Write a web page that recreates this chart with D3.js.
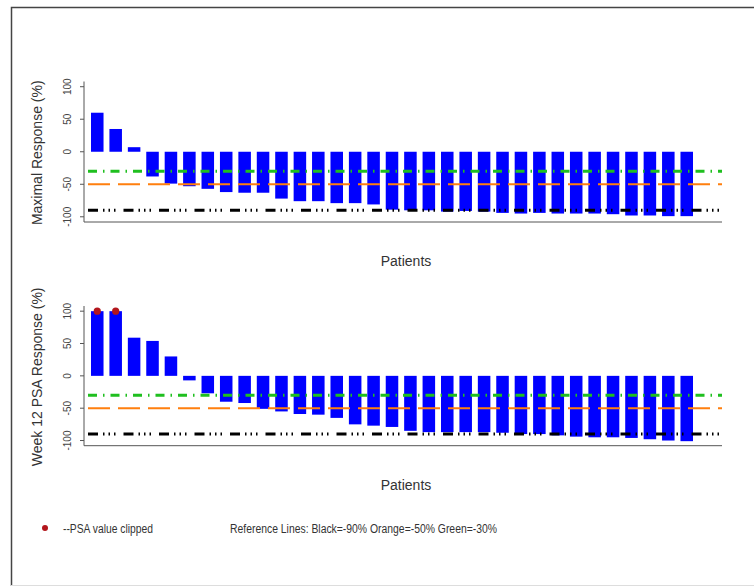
<!DOCTYPE html>
<html>
<head>
<meta charset="utf-8">
<script src="https://cdn.jsdelivr.net/npm/d3@7"></script>
<style>
  body { margin: 0; background: #fff; }
  svg { display: block; font-family: 'Liberation Sans', Arial, sans-serif; }
</style>
</head>
<body>
<div id="chart"></div>
<script>
// patients sorted by response, one bar each
const patients = ['1','2','3','4','5','6','7','8','9','10','11','12','13','14','15','16','17',
  '18','19','20','21','22','23','24','25','26','27','28','29','30','31','32','33'];

const maximalResponse = [60, 35, 7, -38, -49, -53, -57, -62, -63, -63, -72, -76, -76, -79, -79, -81, -89,
  -90, -90, -92, -91, -92, -94, -95, -94, -95, -95, -95, -96, -98, -98, -99, -99];

const week12Response = [100, 100, 59, 54, 30, -7, -27, -40, -42, -51, -55, -59, -60, -65, -75, -77, -79,
  -85, -87, -87, -87, -87, -88, -90, -90, -92, -94, -95, -95, -96, -98, -100, -101];

// indices of week 12 values clipped at 100
const clippedIdx = [0, 1];

const yTicks = [-100, -50, 0, 50, 100];
const refValues = [-90, -50, -30];
const refLabel = 'Reference Lines: Black=-90% Orange=-50% Green=-30%';
const clipLabel = '--PSA value clipped';

const W = 754, H = 587;
const svg = d3.select('#chart').append('svg').attr('width', W).attr('height', H);

// outer frame (top/left visible, faint bottom)
svg.append('path').attr('d', 'M11.5,586V7.5H754')
  .attr('fill', 'none').attr('stroke', '#444').attr('stroke-width', 1.5);
svg.append('line').attr('x1', 11).attr('x2', 754).attr('y1', 585.5).attr('y2', 585.5)
  .attr('stroke', '#ddd');

const refStyle = {
  '-90': { color: '#000', dash: '10,5,1.5,4,1.5,4,1.5,8', width: 3 },
  '-50': { color: '#ff7f0e', dash: '22,8', width: 2 },
  '-30': { color: '#1fbf1f', dash: '9,6,1.5,6', width: 3 }
};

const x = d3.scaleBand().domain(patients).range([91, 693]).paddingInner(0.32).paddingOuter(0);
const plotLeft = 84, plotRight = 722;

function panel(values, top, bottom, yTitle, clipped) {
  const y = d3.scaleLinear().domain([-108, 108]).range([bottom, top]);
  const g = svg.append('g');

  // bars
  g.selectAll('rect.bar').data(values).enter().append('rect')
    .attr('class', 'bar')
    .attr('x', (d, i) => x(patients[i]))
    .attr('width', x.bandwidth())
    .attr('y', d => y(Math.min(Math.max(d, 0), 100)))
    .attr('height', d => Math.abs(y(Math.min(d, 100)) - y(0)))
    .attr('fill', '#0000ff');

  // reference lines
  g.selectAll('line.ref').data(refValues).enter().append('line')
    .attr('x1', 88).attr('x2', plotRight)
    .attr('y1', d => y(d)).attr('y2', d => y(d))
    .attr('stroke', d => refStyle[d].color)
    .attr('stroke-width', d => refStyle[d].width)
    .attr('stroke-dasharray', d => refStyle[d].dash);

  // clipped markers
  g.selectAll('circle.clip').data(clipped).enter().append('circle')
    .attr('cx', i => x(patients[i]) + x.bandwidth() / 2)
    .attr('cy', y(100))
    .attr('r', 3.6)
    .attr('fill', '#b3161c');

  // L-shaped box
  g.append('path')
    .attr('d', `M${plotLeft},${top}V${bottom}H${plotRight}`)
    .attr('fill', 'none').attr('stroke', '#555').attr('stroke-width', 1);

  // y ticks
  const ax = g.append('g');
  ax.selectAll('line').data(yTicks).enter().append('line')
    .attr('x1', plotLeft - 4).attr('x2', plotLeft)
    .attr('y1', d => y(d)).attr('y2', d => y(d))
    .attr('stroke', '#555');
  ax.selectAll('text').data(yTicks).enter().append('text')
    .attr('transform', d => `translate(71,${y(d)}) rotate(-90)`)
    .attr('text-anchor', 'middle')
    .attr('font-size', 10).attr('fill', '#444')
    .text(d => d);

  // titles
  g.append('text')
    .attr('transform', `translate(42,${(top + bottom) / 2 + 1}) rotate(-90)`)
    .attr('text-anchor', 'middle').attr('font-size', 14).attr('fill', '#333')
    .text(yTitle);
  g.append('text')
    .attr('x', 406).attr('y', bottom + 44)
    .attr('text-anchor', 'middle').attr('font-size', 14).attr('fill', '#333')
    .text('Patients');
}

panel(maximalResponse, 81.5, 222, 'Maximal Response (%)', []);
panel(week12Response, 306, 445.7, 'Week 12 PSA Response (%)', clippedIdx);

// legend
svg.append('circle').attr('cx', 45).attr('cy', 528).attr('r', 3).attr('fill', '#b3161c');
svg.append('text').attr('x', 63).attr('y', 533).attr('font-size', 12).attr('fill', '#333')
  .attr('textLength', 90).attr('lengthAdjust', 'spacingAndGlyphs').text(clipLabel);
svg.append('text').attr('x', 230).attr('y', 533).attr('font-size', 12).attr('fill', '#333')
  .attr('textLength', 267).attr('lengthAdjust', 'spacingAndGlyphs').text(refLabel);
</script>
</body>
</html>
